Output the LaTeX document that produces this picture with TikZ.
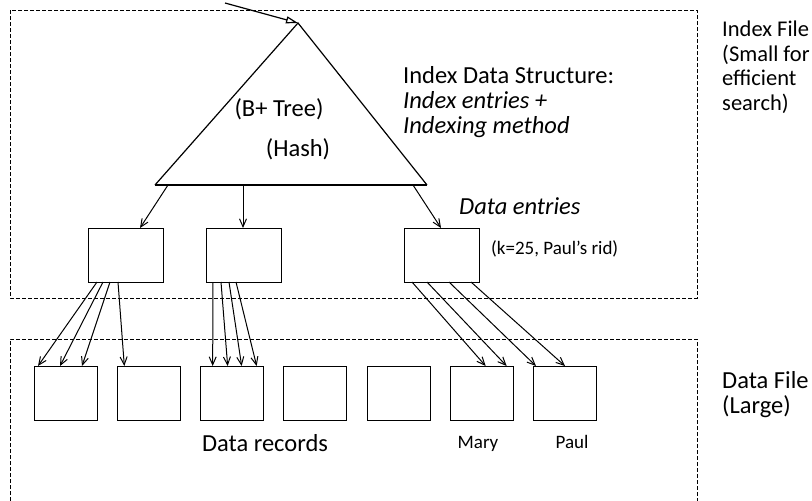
\documentclass[tikz,border=0pt]{standalone}
\usepackage{fontspec}
\setmainfont{Carlito}
\usetikzlibrary{arrows.meta}

\begin{document}
\begin{tikzpicture}[x=1pt,y=-1pt,font=\fontsize{24.5}{25}\selectfont,
    >={Straight Barb[length=8pt,width=7pt]},
    box/.style={draw,line width=1pt,inner sep=0pt,outer sep=0pt,anchor=north west,minimum height=54pt},
    frame/.style={line width=0.8pt,dash pattern=on 4pt off 2pt},
    ptr/.style={->,line width=1pt},
    lbl/.style={inner sep=0pt,anchor=base west,align=left},
    small/.style={font=\fontsize{19}{20}\selectfont}]
    \useasboundingbox (0,0) rectangle (812,501);
    \draw[frame] (10,10) rectangle (697,298);          % index file
    \draw[frame] (10,501) |- (697,339) -- (697,501);   % data file, bottom cut off
    % the index structure
    \coordinate (apex) at (298,23);
    \coordinate (bl) at (155,185);
    \coordinate (br) at (427,185);
    \coordinate (in) at (225,3);
    \draw[line width=1.2pt] (bl) -- (apex) -- (br);
    \draw[line width=2pt] (bl) -- (br);
    \draw[line width=1.2pt,-{Triangle[open,length=12pt,width=7pt]}] (in) -- (apex);
    \node (btree) at (279,109) {(B+ Tree)};
    \node (hash) at (298,149) {(Hash)};
    \node[lbl] (ids) at (403,133) {Index Data Structure:\\ \textit{Index entries +}\\ \textit{Indexing method}}; % base = last line
    % data entries
    \foreach \n/\x in {de1/88,de2/206,de3/404}{
       \node[box,minimum width=75pt] (\n) at (\x,228) {};
    }
    \draw[ptr] ([xshift=13pt]bl) -- ([xshift=52pt]de1.north west);
    \draw[ptr] ([xshift=88pt]bl) -- ([xshift=37pt]de2.north west);
    \draw[ptr] ([xshift=-14pt]br) -- ([xshift=37pt]de3.north west);
    \node[lbl] (dent) at (459,214) {\textit{Data entries}};
    \node[lbl,small] (kay) at (491,254) {(k=25, Paul’s rid)};
    % data records
    \foreach \i in {1,...,7}{
       \node[box,minimum width=63pt] (dr\i) at (34+83.33*\i-83.33,366) {};
    }
    \foreach \a/\s/\b/\e in {de1/9/dr1/4,de1/15/dr1/26,de1/22/dr1/48,de1/30/dr2/7,
                             de2/7/dr3/12,de2/15/dr3/27,de2/23/dr3/41,de2/30/dr3/56,
                             de3/8/dr6/35,de3/23/dr6/56,de3/45/dr7/2,de3/67/dr7/31}{
       \draw[ptr] ([xshift=\s pt]\a.south west) -- ([xshift=\e pt]\b.north west);
    }
    \node[inner sep=0pt,anchor=base] (drec) at (265,451) {Data records};
    \node[inner sep=0pt,anchor=base,small] (mary) at (478,448) {Mary};
    \node[inner sep=0pt,anchor=base,small] (paul) at (572,448) {Paul};
    % file labels
    \node[lbl,font=\fontsize{22.5}{24.5}\selectfont] (ifile) at (722,110) {Index File\\(Small for\\efficient\\search)};
    \node[lbl] (dfile) at (722,413) {Data File\\(Large)};
\end{tikzpicture}
\end{document}
